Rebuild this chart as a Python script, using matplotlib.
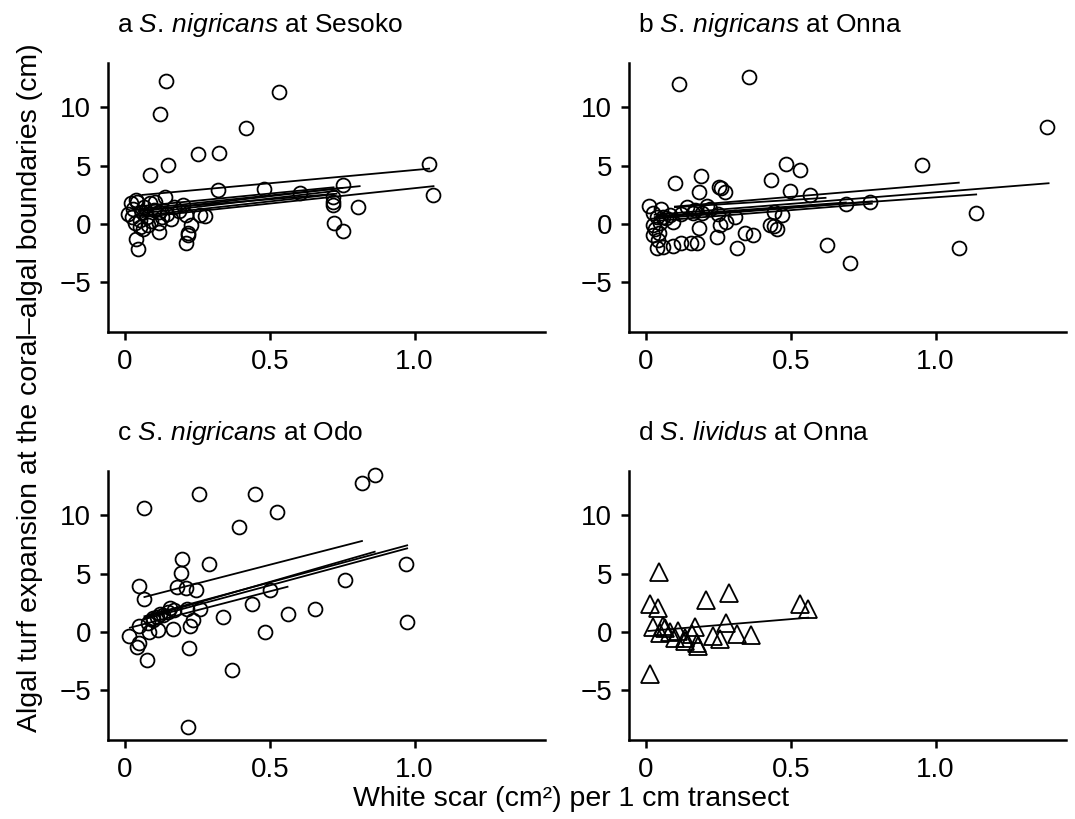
import matplotlib
matplotlib.use("Agg")
import matplotlib.pyplot as plt

plt.rcParams["font.family"] = ["Liberation Sans", "DejaVu Sans"]
plt.rcParams["mathtext.fontset"] = "custom"
plt.rcParams["mathtext.rm"] = "Liberation Sans"
plt.rcParams["mathtext.it"] = "Liberation Sans:italic"

# -----------------------------
# Data
# -----------------------------
titles = [
    r"a $\it{S.\,nigricans}$ at Sesoko",
    r"b $\it{S.\,nigricans}$ at Onna",
    r"c $\it{S.\,nigricans}$ at Odo",
    r"d $\it{S.\,lividus}$ at Onna",
]

# panel a: S. nigricans at Sesoko
a_x = [0.140, 0.533, 0.121, 0.417, 0.252, 0.325, 0.148, 0.087, 0.321, 0.480,
       0.753, 0.139, 0.038, 0.718, 0.718, 0.718, 0.806, 0.722, 0.754, 1.063,
       1.049, 0.603, 0.210, 0.217, 0.217, 0.228, 0.044, 0.038, 0.061, 0.118,
       0.187, 0.210, 0.259, 0.277, 0.012, 0.029, 0.023, 0.035, 0.052, 0.075,
       0.099, 0.116, 0.128, 0.087, 0.064, 0.105, 0.041, 0.145, 0.052, 0.081,
       0.116, 0.020, 0.060, 0.090, 0.170, 0.200, 0.160]
a_y = [12.23, 11.29, 9.43, 8.25, 6.02, 6.06, 5.06, 4.20, 2.94, 3.02,
       3.32, 2.29, 2.06, 2.29, 1.91, 1.63, 1.48, 0.11, -0.60, 2.48,
       5.17, 2.63, -1.65, -0.80, -0.94, -0.11, -2.14, -1.31, -0.45, -0.66,
       1.14, 0.77, 0.77, 0.69, 0.86, 1.31, 0.57, 0.06, 0.34, 0.63,
       1.20, 0.09, 0.63, 1.77, 1.46, 1.91, 1.91, 0.89, -0.26, -0.11,
       1.03, 1.80, 1.00, 0.30, 1.50, 1.60, 0.40]
a_lx0 = [0.06, 0.06, 0.05, 0.05, 0.05, 0.04, 0.05, 0.05]
a_ly0 = [2.50, 0.60, 1.30, 1.10, 0.90, 1.50, 1.20, 0.70]
a_lx1 = [1.05, 1.065, 0.81, 0.75, 0.73, 0.72, 0.73, 0.72]
a_ly1 = [4.75, 3.25, 3.25, 3.10, 2.85, 3.15, 2.60, 2.55]

# panel b: S. nigricans at Onna
b_x = [0.113, 0.356, 0.485, 0.531, 0.433, 0.189, 0.100, 0.253, 0.258, 0.272,
       0.184, 0.499, 0.566, 0.011, 0.053, 0.140, 0.211, 0.025, 0.037, 0.060,
       0.083, 0.094, 0.163, 0.192, 0.249, 0.307, 0.441, 0.471, 0.690, 0.775,
       0.255, 0.276, 0.183, 0.025, 0.023, 0.046, 0.042, 0.037, 0.058, 0.092,
       0.120, 0.155, 0.177, 0.244, 0.315, 0.341, 0.370, 0.428, 0.441, 0.454,
       0.625, 0.704, 1.386, 0.954, 1.139, 1.080, 0.120, 0.170, 0.220, 0.070,
       0.050, 0.030]
b_y = [11.97, 12.60, 5.14, 4.63, 3.77, 4.11, 3.54, 3.20, 3.08, 2.74,
       2.72, 2.80, 2.48, 1.57, 1.26, 1.48, 1.57, 0.92, 0.63, 0.63,
       0.77, 0.20, 0.92, 0.92, 0.86, 0.57, 1.05, 0.75, 1.69, 1.91,
       -0.09, 0.15, -0.37, -0.09, -0.94, -0.80, -1.37, -2.08, -2.00, -1.89,
       -1.60, -1.60, -1.60, -1.09, -2.03, -0.80, -0.94, -0.09, -0.15, -0.43,
       -1.80, -3.32, 8.31, 5.08, 0.92, -2.03, 0.90, 1.20, 1.30, 0.50,
       0.10, -0.40]
b_lx0 = [0.10, 0.03, 0.03, 0.10, 0.05, 0.05, 0.05]
b_ly0 = [1.50, 0.80, 0.60, 1.45, 0.50, 0.30, 0.70]
b_lx1 = [1.08, 1.39, 1.14, 0.62, 0.78, 0.78, 0.69]
b_ly1 = [3.55, 3.50, 2.54, 2.25, 1.95, 1.75, 1.85]

# panel c: S. nigricans at Odo
c_x = [0.067, 0.256, 0.448, 0.523, 0.392, 0.818, 0.864, 0.197, 0.194, 0.291,
       0.049, 0.178, 0.210, 0.244, 0.067, 0.502, 0.761, 0.440, 0.561, 0.656,
       0.339, 0.259, 0.213, 0.155, 0.121, 0.098, 0.236, 0.224, 0.167, 0.115,
       0.084, 0.049, 0.015, 0.049, 0.040, 0.075, 0.222, 0.483, 0.368, 0.216,
       0.971, 0.974, 0.080, 0.095, 0.110, 0.130, 0.150, 0.170]
c_y = [10.60, 11.85, 11.85, 10.28, 9.00, 12.79, 13.43, 6.28, 5.06, 5.80,
       3.92, 3.86, 3.74, 3.60, 2.80, 3.62, 4.43, 2.43, 1.52, 2.00,
       1.29, 1.95, 2.00, 2.08, 1.52, 1.23, 1.00, 0.51, 0.23, 0.15,
       0.00, 0.51, -0.34, -0.92, -1.29, -2.37, -1.40, 0.00, -3.23, -8.17,
       5.80, 0.88, 0.80, 1.00, 1.30, 1.50, 1.70, 1.90]
c_lx0 = [0.067, 0.067, 0.067, 0.067, 0.017]
c_ly0 = [3.00, 1.35, 1.10, 1.20, 0.37]
c_lx1 = [0.818, 0.974, 0.974, 0.862, 0.561]
c_ly1 = [7.80, 7.43, 7.17, 6.88, 3.88]

# panel d: S. lividus at Onna
d_x = [0.046, 0.014, 0.040, 0.207, 0.285, 0.531, 0.560, 0.025, 0.058, 0.066,
       0.276, 0.169, 0.048, 0.083, 0.111, 0.100, 0.134, 0.134, 0.175, 0.180,
       0.232, 0.255, 0.315, 0.361, 0.014, 0.158]
d_y = [5.17, 2.37, 2.03, 2.72, 3.37, 2.37, 1.94, 0.43, 0.51, 0.32,
       0.80, 0.43, -0.06, 0.03, 0.09, -0.49, -0.49, -0.77, -0.92, -1.20,
       -0.34, -0.63, -0.14, -0.28, -3.57, -0.20]
d_lx0 = [0.008]
d_ly0 = [0.09]
d_lx1 = [0.56]
d_ly1 = [1.23]

xticks = [0, 0.5, 1.0]
xticklabels = ["0", "0.5", "1.0"]
yticks = [-5, 0, 5, 10]

panels = [
    (a_x, a_y, a_lx0, a_ly0, a_lx1, a_ly1, "o"),
    (b_x, b_y, b_lx0, b_ly0, b_lx1, b_ly1, "o"),
    (c_x, c_y, c_lx0, c_ly0, c_lx1, c_ly1, "o"),
    (d_x, d_y, d_lx0, d_ly0, d_lx1, d_ly1, "^"),
]

# -----------------------------
# Plot
# -----------------------------
fig = plt.figure(figsize=(10.75, 8.19), dpi=100)
lefts = [0.1005, 0.5851, 0.1005, 0.5851]
bottoms = [0.5946, 0.5946, 0.0965, 0.0965]
w, h = 0.4065, 0.3284

for i, (px, py, lx0, ly0, lx1, ly1, mk) in enumerate(panels):
    ax = fig.add_axes([lefts[i], bottoms[i], w, h])
    for x0, y0, x1, y1 in zip(lx0, ly0, lx1, ly1):
        ax.plot([x0, x1], [y0, y1], color="black", lw=1.3, zorder=2)
    ms = 10 if mk == "o" else 12.5
    ax.plot(px, py, linestyle="none", marker=mk, ms=ms, mfc="none",
            mec="black", mew=1.3, zorder=3, clip_on=False)
    ax.set_xlim(-0.0586, 1.45)
    ax.set_ylim(-9.25, 13.8)
    ax.set_xticks(xticks)
    ax.set_xticklabels(xticklabels)
    ax.set_yticks(yticks)
    for s in ["top", "right"]:
        ax.spines[s].set_visible(False)
    for s in ["left", "bottom"]:
        ax.spines[s].set_linewidth(1.8)
    ax.tick_params(direction="out", length=6, width=1.8, labelsize=20, pad=6)
    ax.text(0.02, 1.14, titles[i], transform=ax.transAxes, fontsize=19,
            ha="left", va="center")

fig.text(0.028, 0.527, "Algal turf expansion at the coral\u2013algal boundaries (cm)",
         rotation=90, ha="center", va="center", fontsize=20.5)
fig.text(0.531, 0.024, "White scar (cm\u00b2) per 1 cm transect",
         ha="center", va="center", fontsize=20.5)

fig.savefig("out.png", dpi=100)
